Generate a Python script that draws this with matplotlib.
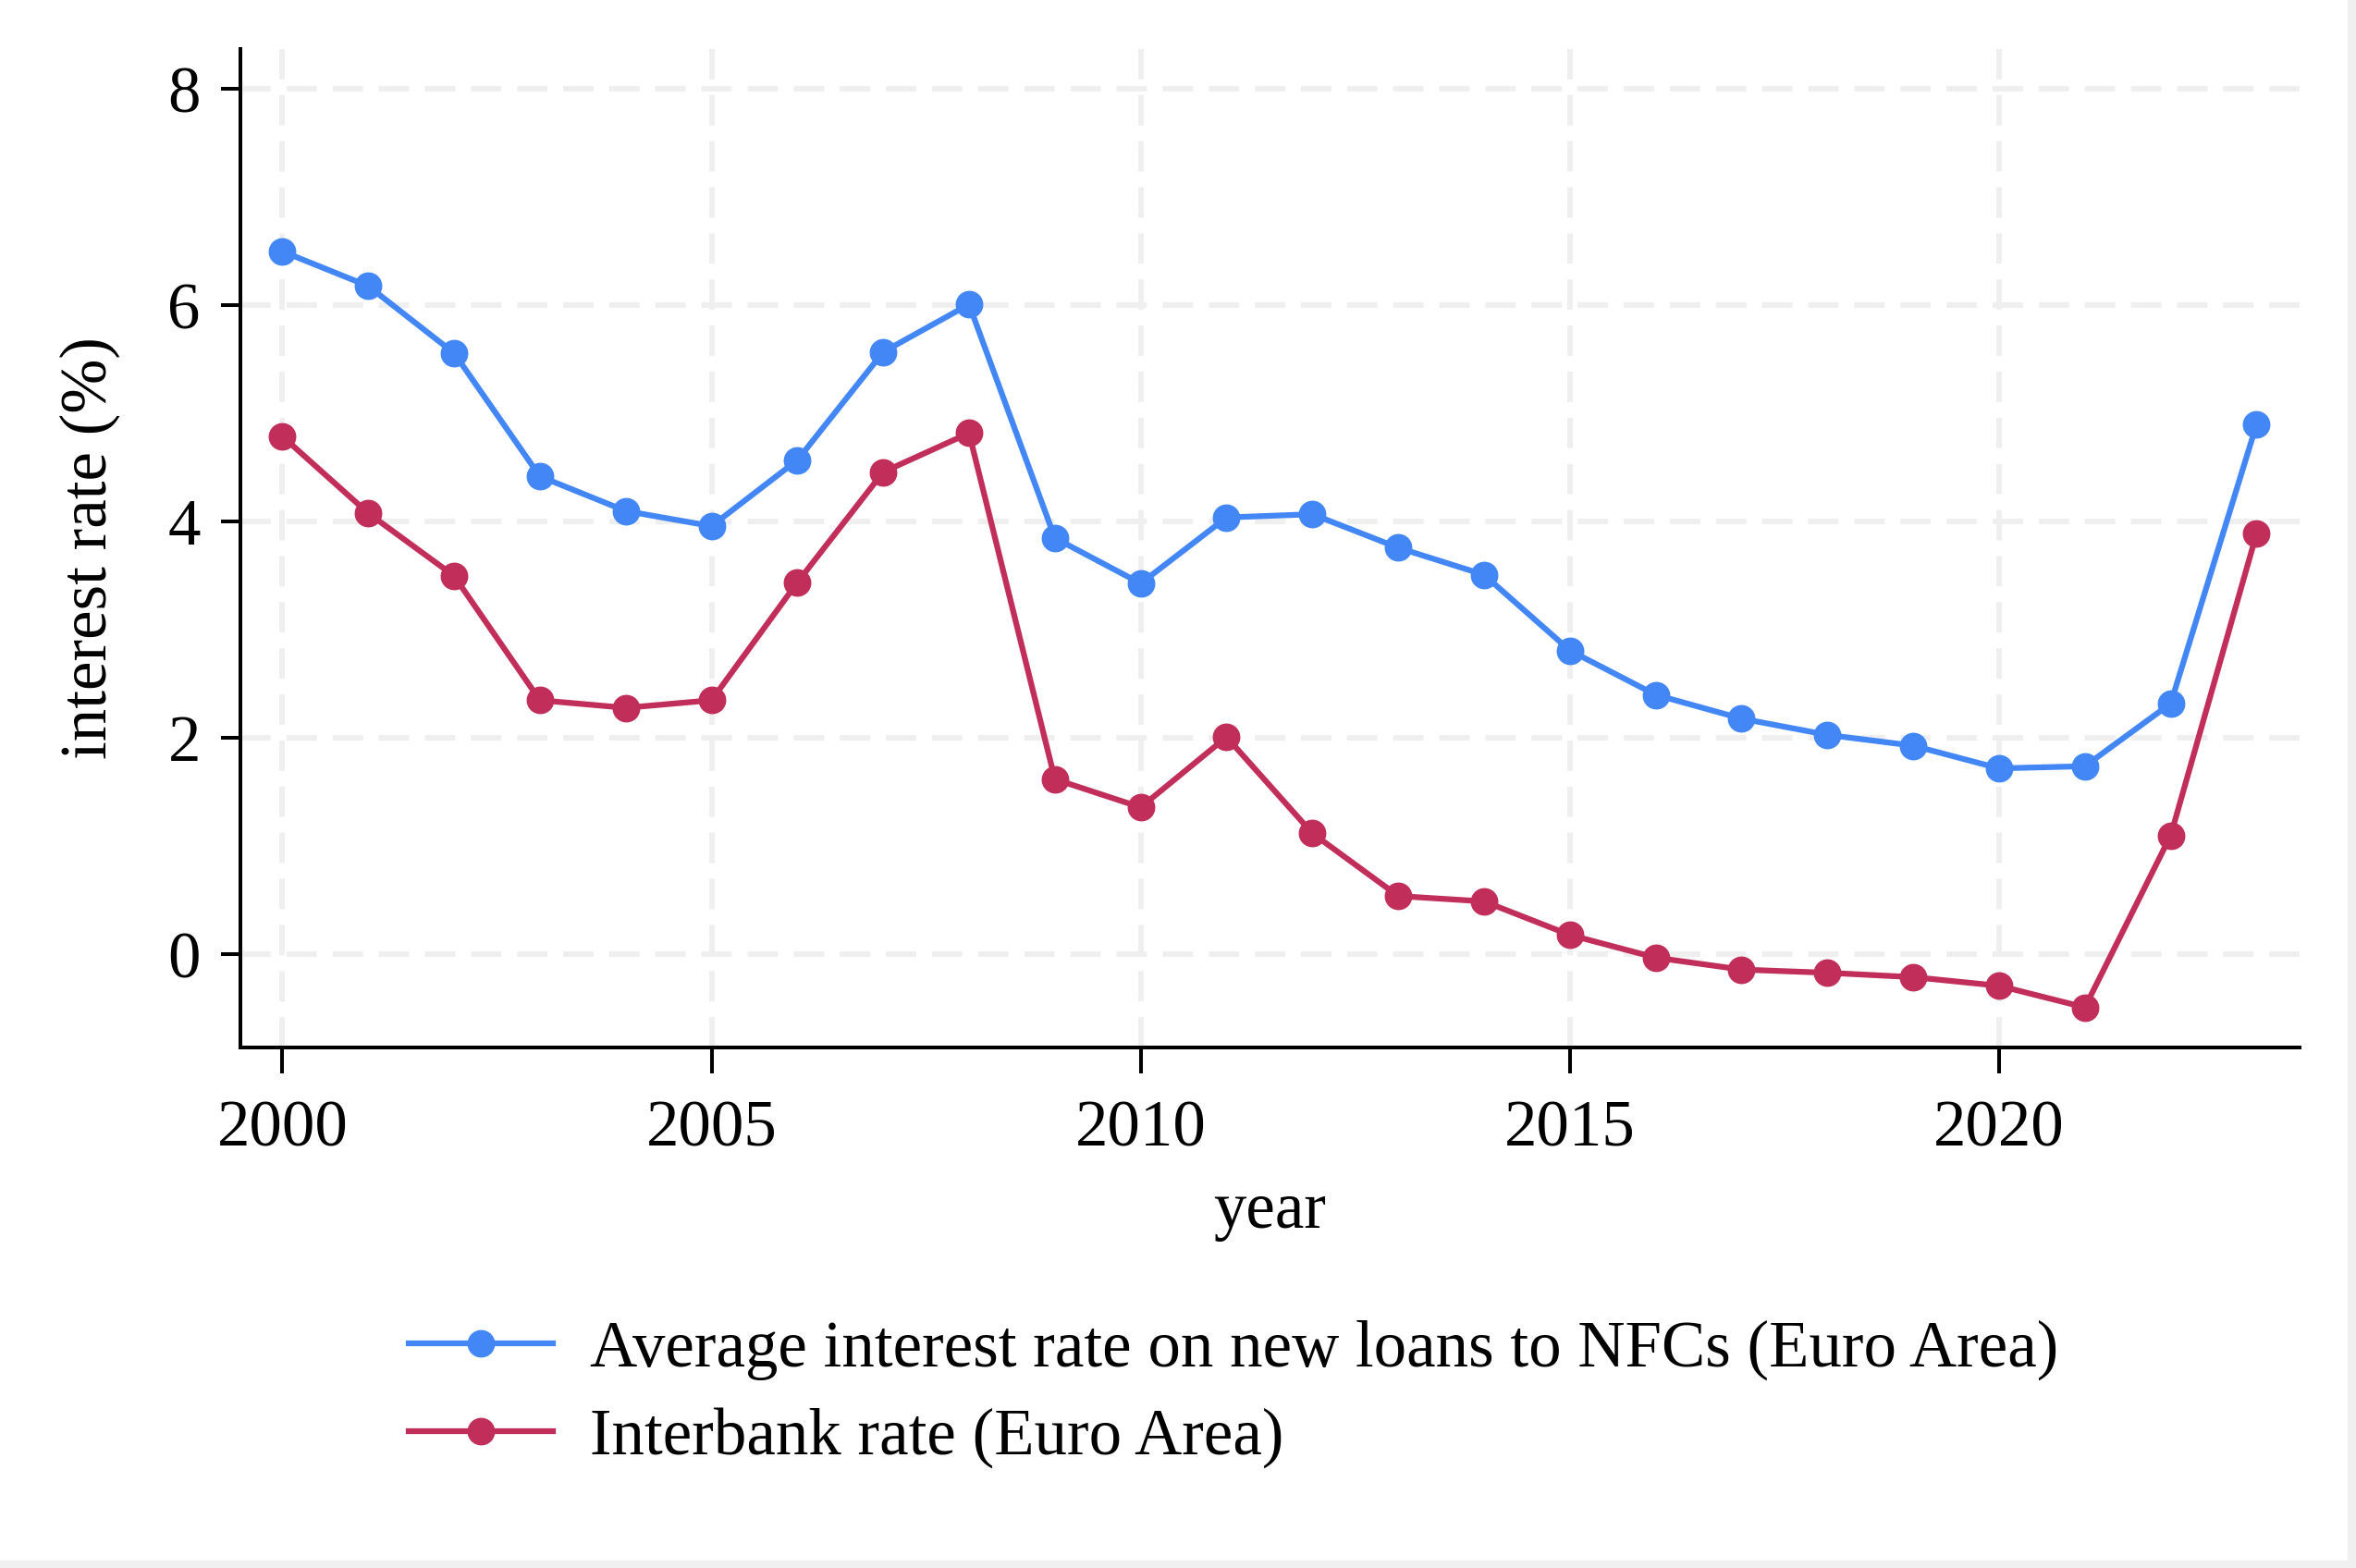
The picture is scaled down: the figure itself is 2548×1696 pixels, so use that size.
import matplotlib
matplotlib.use("Agg")
import matplotlib.pyplot as plt
from matplotlib.patches import Rectangle

# ---------------------------------------------------------------------
# Data
# ---------------------------------------------------------------------
years = list(range(2000, 2024))

loan_rate = [6.50, 6.18, 5.56, 4.42, 4.10, 3.96, 4.57, 5.57, 6.01, 3.85,
             3.43, 4.04, 4.07, 3.76, 3.51, 2.81, 2.40, 2.18, 2.03, 1.93,
             1.72, 1.74, 2.32, 4.90]

interbank_rate = [4.79, 4.08, 3.50, 2.35, 2.28, 2.35, 3.44, 4.46, 4.82, 1.62,
                  1.36, 2.01, 1.12, 0.54, 0.49, 0.18, -0.03, -0.14, -0.17, -0.21,
                  -0.29, -0.49, 1.10, 3.89]

x_ticks = [2000, 2005, 2010, 2015, 2020]
y_ticks = [0, 2, 4, 6, 8]

labels = ["Average interest rate on new loans to NFCs (Euro Area)",
          "Interbank rate (Euro Area)"]
colors = ["#4287f5", "#c12e5a"]

# ---------------------------------------------------------------------
# Plot
# ---------------------------------------------------------------------
plt.rcParams['font.family'] = ['Liberation Serif', 'DejaVu Serif']
FS = 51

fig = plt.figure(figsize=(25.48, 16.96), dpi=100)
ax = fig.add_axes([0.102, 0.332, 0.874, 0.637])

ax.plot(years, loan_rate, color=colors[0], lw=4.5, marker='o', ms=20.5,
        label=labels[0], zorder=3)
ax.plot(years, interbank_rate, color=colors[1], lw=4.5, marker='o', ms=20.5,
        label=labels[1], zorder=3)

ax.set_xlim(1999.51, 2023.5)
ax.set_ylim(-0.86, 8.375)
ax.set_xticks(x_ticks)
ax.set_yticks(y_ticks)

# light dashed grid, Stata style
ax.grid(True, color='#efefef', lw=4.3, linestyle=(0, (5.5, 2.85)), zorder=0)
ax.set_axisbelow(True)

for s in ['top', 'right']:
    ax.spines[s].set_visible(False)
for s in ['left', 'bottom']:
    ax.spines[s].set_linewidth(2.9)
    ax.spines[s].set_color('black')

ax.tick_params(axis='y', length=15, width=2.9, pad=16, labelsize=FS)
ax.tick_params(axis='x', length=20, width=2.9, pad=21, labelsize=FS)

ax.set_xlabel("year", fontsize=FS, va='center')
ax.set_ylabel("interest rate (%)", fontsize=FS, va='center')
ax.xaxis.set_label_coords(0.5, -0.164)
ax.yaxis.set_label_coords(-0.073, 0.5)

fig.legend(loc='upper left', bbox_to_anchor=(0.1735, 0.158),
           bbox_transform=fig.transFigure, frameon=False, fontsize=FS,
           handlelength=2.2, handletextpad=0.57, labelspacing=0.41,
           borderpad=0, borderaxespad=0)

# light grey strip along the right and bottom edge
fig.patches.append(Rectangle((0.9965, 0), 0.0035, 1, transform=fig.transFigure,
                             color='#f0f0f0', zorder=-1))
fig.patches.append(Rectangle((0, 0), 1, 0.005, transform=fig.transFigure,
                             color='#f0f0f0', zorder=-1))

fig.savefig('out.png', dpi=100, facecolor='white')
plt.close()
